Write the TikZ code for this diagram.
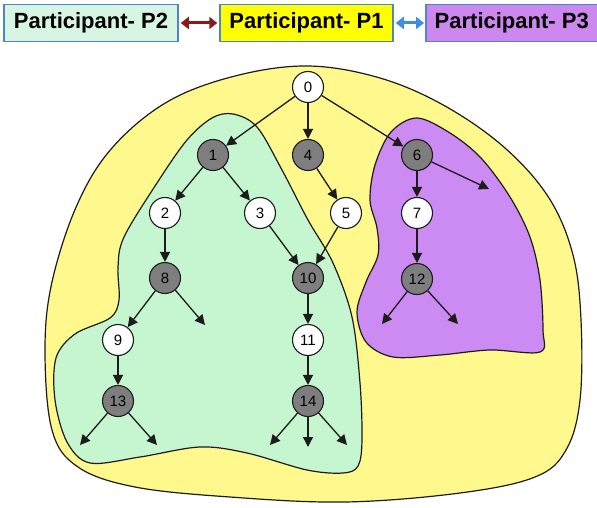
\documentclass[tikz,border=0pt]{standalone}
\usepackage{fontspec}
\setmainfont{Liberation Sans}
\usetikzlibrary{arrows.meta}

\definecolor{regyellow}{HTML}{FFF88C}
\definecolor{reggreen}{HTML}{C6F6D0}
\definecolor{regpurple}{HTML}{CB8BF3}
\definecolor{hdrgreen}{HTML}{D6F5E2}
\definecolor{hdryellow}{HTML}{FFFF00}
\definecolor{hdrpurple}{HTML}{CC88EE}
\definecolor{hdrborder}{HTML}{4A86C8}
\definecolor{linkred}{HTML}{8B1A1A}
\definecolor{linkblue}{HTML}{3A8EE6}
\definecolor{nodegrey}{HTML}{7E7E7E}
\definecolor{edgeink}{HTML}{1C1C1C}

\tikzset{
  region/.style={draw=edgeink, line width=1.2pt},
  hdrbox/.style={draw=hdrborder, line width=1.5pt, minimum height=37pt,
    inner sep=0pt, font=\fontsize{22}{22}\selectfont\bfseries},
  link/.style={line width=3pt, {Triangle[length=8pt,width=12pt]}-{Triangle[length=8pt,width=12pt]}},
  vtx/.style={circle, draw=edgeink, line width=1.1pt, minimum size=31pt,
    inner sep=0pt, font=\fontsize{15}{15}\selectfont},
  owned/.style={vtx, fill=nodegrey},
  other/.style={vtx, fill=white},
  edge/.style={draw=edgeink, line width=1.3pt, -{Triangle[length=10pt,width=10pt]}},
}

\begin{document}
\begin{tikzpicture}[x=1pt, y=-1pt]
\useasboundingbox (0,0) rectangle (597,508);
\fill[white] (0,0) rectangle (597,508);

% participant boxes
\node[hdrbox, fill=hdrgreen, minimum width=174pt] (p2) at (91,23) {Participant- P2};
\node[hdrbox, fill=hdryellow, minimum width=173pt] (p1) at (306.5,23) {Participant- P1};
\node[hdrbox, fill=hdrpurple, minimum width=176pt, anchor=west] (p3) at (425,23) {\hspace*{-2pt}Participant- P3\hspace*{2pt}};
\draw[link, draw=linkred, fill=linkred] ([xshift=2pt]p2.east) -- ([xshift=-2pt]p1.west);
\draw[link, draw=linkblue, fill=linkblue] ([xshift=2pt]p1.east) -- ([xshift=-1pt]p3.west);

% outer region (P1)
\draw[region, fill=regyellow] plot[smooth cycle, tension=0.6] coordinates {
  (308,66) (380,78) (445,106) (505,148) (549,198) (573,255) (581,320)
  (580,400) (566,450) (535,477) (460,493) (345,502) (230,497) (135,487)
  (78,467) (52,430) (45,350) (52,282) (77,205) (112,148) (167,102) (235,76)};

% region of P2
\draw[region, fill=reggreen] plot[smooth cycle, tension=0.55] coordinates {
  (233,114) (257,127) (282,170) (308,220) (333,263) (352,317) (360,383)
  (362,440) (358,466) (343,473) (307,470) (247,453) (200,447) (140,457) (90,463)
  (67,442) (55,400) (56,358) (75,334) (110,318) (119,300) (118,267)
  (124,237) (157,183) (187,140) (212,118)};

% region of P3
\draw[region, fill=regpurple] plot[smooth cycle, tension=0.55] coordinates {
  (417,118) (450,133) (481,158) (510,197) (530,237) (540,280) (543,330)
  (540,352) (490,350) (440,355) (393,357) (366,342) (357,312) (366,282)
  (378,255) (377,228) (370,200) (375,165) (391,132)};

% vertices
\node[other] (n0) at (308,87) {0};
\node[owned] (n1) at (213,155) {1};
\node[owned] (n4) at (308,155) {4};
\node[owned] (n6) at (417,155) {6};
\node[other] (n2) at (165,213) {2};
\node[other] (n3) at (260,213) {3};
\node[other] (n5) at (346,213) {5};
\node[other] (n7) at (417,213) {7};
\node[owned] (n8) at (165,278) {8};
\node[owned] (n10) at (308,278) {10};
\node[owned] (n12) at (417,279) {12};
\node[other] (n9) at (118,340) {9};
\node[other] (n11) at (308,340) {11};
\node[owned] (n13) at (118,401) {13};
\node[owned] (n14) at (308,401) {14};

% open ends of outgoing edges
\coordinate (e6) at (489,189);
\coordinate (e8) at (205,325);
\coordinate (e12a) at (382,324);
\coordinate (e12b) at (458,324);
\coordinate (e13a) at (80,445);
\coordinate (e13b) at (157,445);
\coordinate (e14a) at (270,445);
\coordinate (e14b) at (308,447);
\coordinate (e14c) at (347,445);

% edges
\foreach \a/\b in {n0/n1, n0/n4, n0/n6, n1/n2, n1/n3, n4/n5, n2/n8, n3/n10,
  n5/n10, n6/n7, n7/n12, n8/n9, n10/n11, n11/n14, n9/n13}
  \draw[edge] (\a) -- (\b);
\foreach \a/\b in {n6/e6, n8/e8, n12/e12a, n12/e12b, n13/e13a, n13/e13b,
  n14/e14a, n14/e14b, n14/e14c}
  \draw[edge] (\a) -- (\b);
\end{tikzpicture}
\end{document}
